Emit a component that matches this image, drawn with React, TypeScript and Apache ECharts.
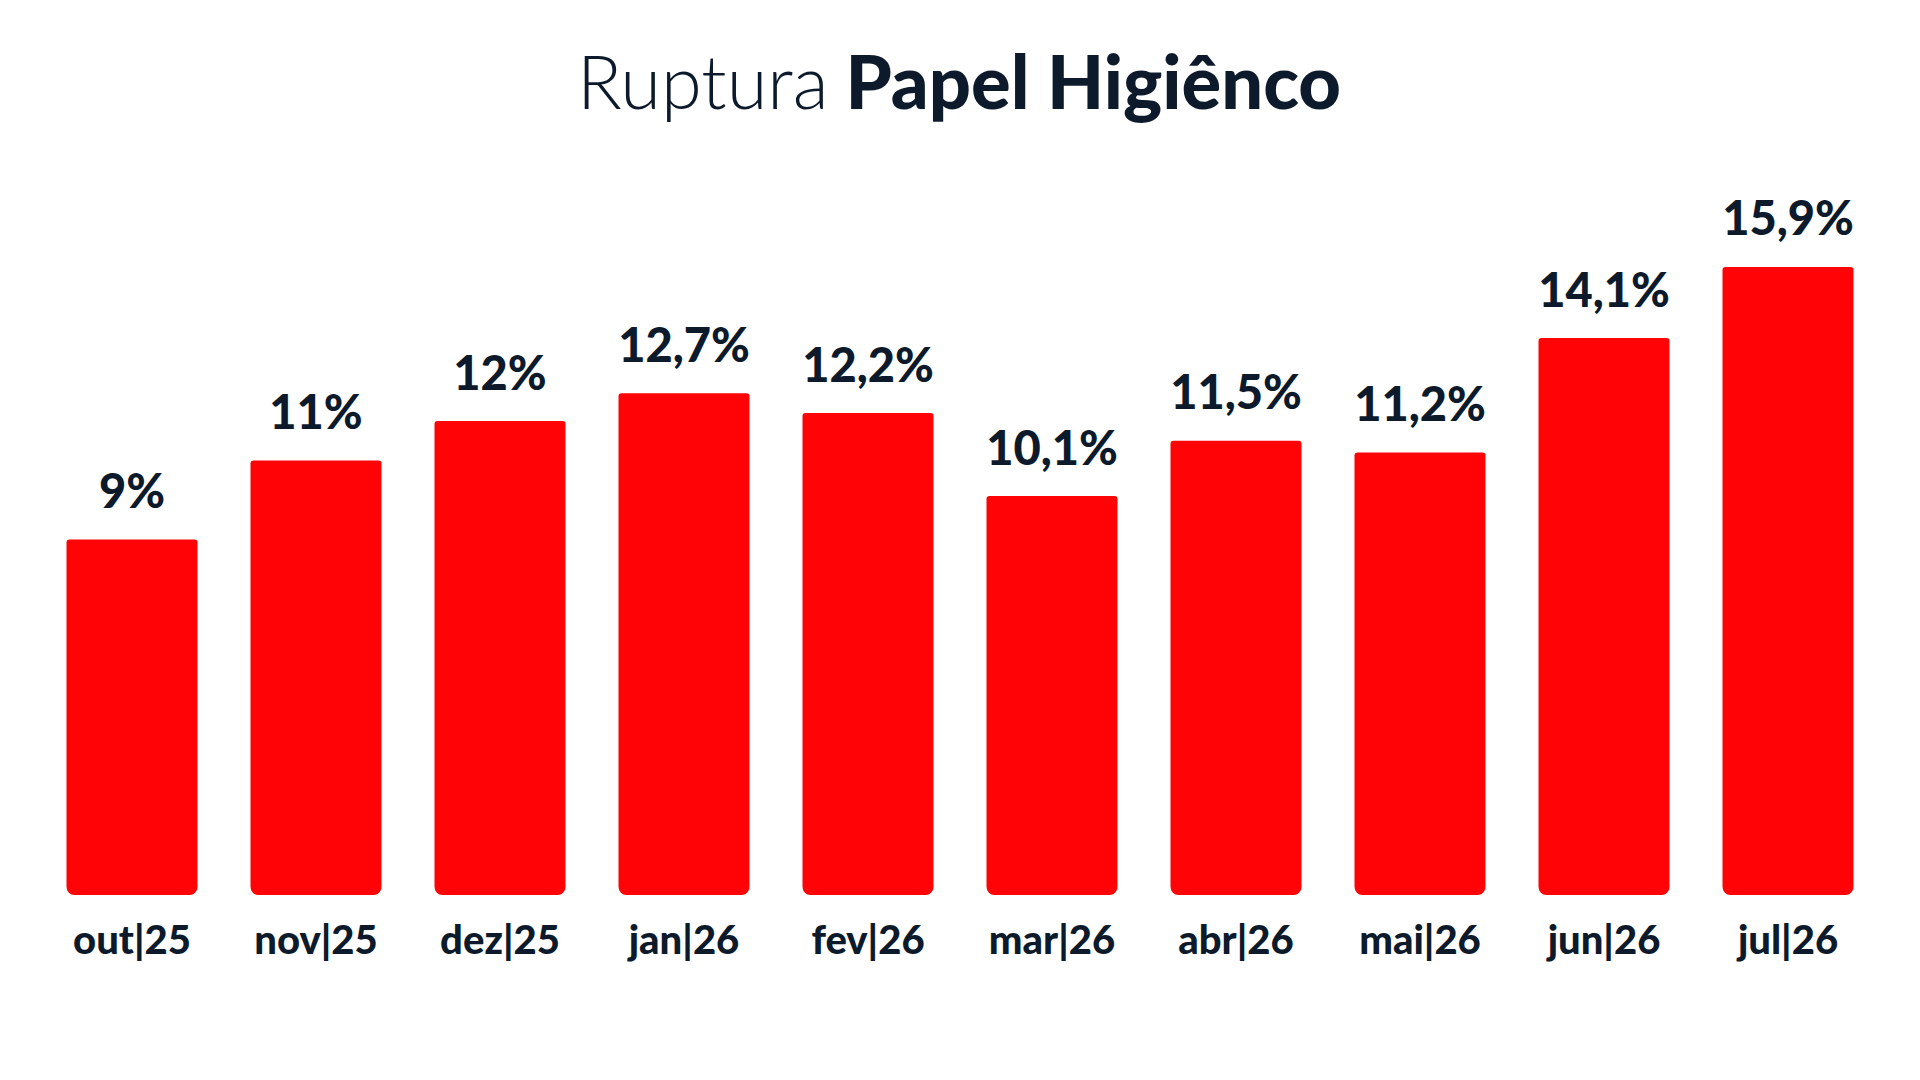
import React, { useEffect, useRef } from "react";
import * as echarts from "echarts";

const categories = ["out|25", "nov|25", "dez|25", "jan|26", "fev|26", "mar|26", "abr|26", "mai|26", "jun|26", "jul|26"];
const rupturaValues = [9, 11, 12, 12.7, 12.2, 10.1, 11.5, 11.2, 14.1, 15.9];
const titleLight = "Ruptura";
const titleBold = "Papel Higiênco";

const TEXT = "#0c1a2b";
const RED = "#ff0306";
const FONT = "Lato, 'Open Sans', sans-serif";

function formatPct(v: number): string {
  return String(v).replace(".", ",") + "%";
}

export default function App() {
  const ref = useRef<HTMLDivElement>(null);

  useEffect(() => {
    document.body.style.margin = "0";
    const chart = echarts.init(ref.current!, null, { renderer: "svg" });
    chart.setOption({
      animation: false,
      backgroundColor: "#ffffff",
      title: {
        left: 954,
        textAlign: "center",
        top: 38,
        text: `{l|${titleLight}}{s| }{b|${titleBold}}`,
        textStyle: {
          rich: {
            l: { fontFamily: FONT, fontWeight: 300, fontSize: 74, color: TEXT },
            s: { fontFamily: FONT, fontSize: 74, width: 17 },
            b: { fontFamily: FONT, fontWeight: 900, fontSize: 74, color: TEXT },
          },
        },
      },
      grid: { left: 40, right: 40, top: 105, bottom: 185, containLabel: false },
      xAxis: {
        type: "category",
        data: categories,
        axisLine: { show: false },
        axisTick: { show: false },
        axisLabel: {
          margin: 24,
          fontFamily: FONT,
          fontWeight: 900,
          fontSize: 40,
          color: TEXT,
        },
      },
      yAxis: {
        type: "value",
        min: 0,
        max: 20,
        show: false,
        splitLine: { show: false },
      },
      series: [
        {
          type: "bar",
          data: rupturaValues,
          barWidth: 131,
          itemStyle: { color: RED, borderRadius: [3, 3, 8, 8] },
          label: {
            show: true,
            position: "top",
            distance: 26,
            fontFamily: FONT,
            fontWeight: 900,
            fontSize: 47,
            color: TEXT,
            formatter: (p: any) => formatPct(p.value),
          },
        },
      ],
    });
    return () => chart.dispose();
  }, []);

  return (
    <div
      ref={ref}
      style={{ position: "fixed", left: 0, top: 0, width: 1920, height: 1080 }}
    />
  );
}
